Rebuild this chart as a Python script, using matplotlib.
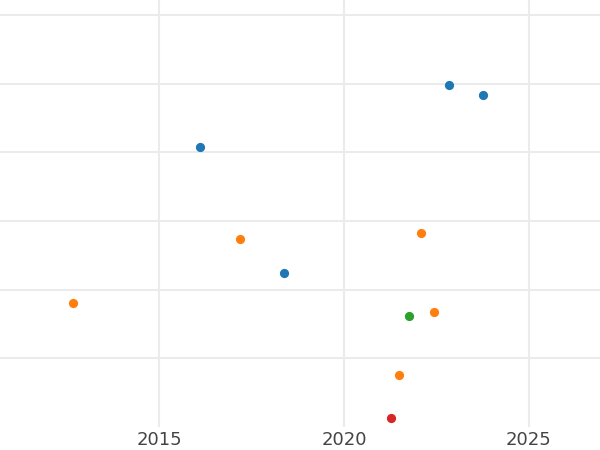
import matplotlib
matplotlib.use("Agg")
import matplotlib.pyplot as plt

# data (x = year, y = unitless value)
blue_x = [2016.11, 2018.38, 2022.84, 2023.76]
blue_y = [4.08, 2.24, 4.98, 4.83]
orange_x = [2012.68, 2017.19, 2022.08, 2022.43, 2021.49]
orange_y = [1.80, 2.74, 2.82, 1.67, 0.76]
green_x = [2021.76]
green_y = [1.62]
red_x = [2021.27]
red_y = [0.13]

xticks = [2015, 2020, 2025]
yticks = [1, 2, 3, 4, 5, 6]

fig = plt.figure(figsize=(6, 4.5), dpi=100)
ax = fig.add_axes([0, 23 / 450, 1, 427 / 450])

for xs, ys, c in [(blue_x, blue_y, "#1f77b4"), (orange_x, orange_y, "#ff7f0e"),
                  (green_x, green_y, "#2ca02c"), (red_x, red_y, "#d62728")]:
    ax.scatter(xs, ys, s=44, color=c, zorder=3, linewidths=0)

ax.set_xlim(2010.70, 2026.92)
ax.set_ylim(0, 6.22)
ax.set_xticks(xticks)
ax.set_yticks(yticks)
ax.set_yticklabels([])
ax.grid(True, color="#ebebeb", linewidth=1.5)
ax.set_axisbelow(True)
for s in ax.spines.values():
    s.set_visible(False)
ax.tick_params(length=0, labelsize=13, labelcolor="#444444", pad=3)

fig.savefig("out.png", dpi=100)
